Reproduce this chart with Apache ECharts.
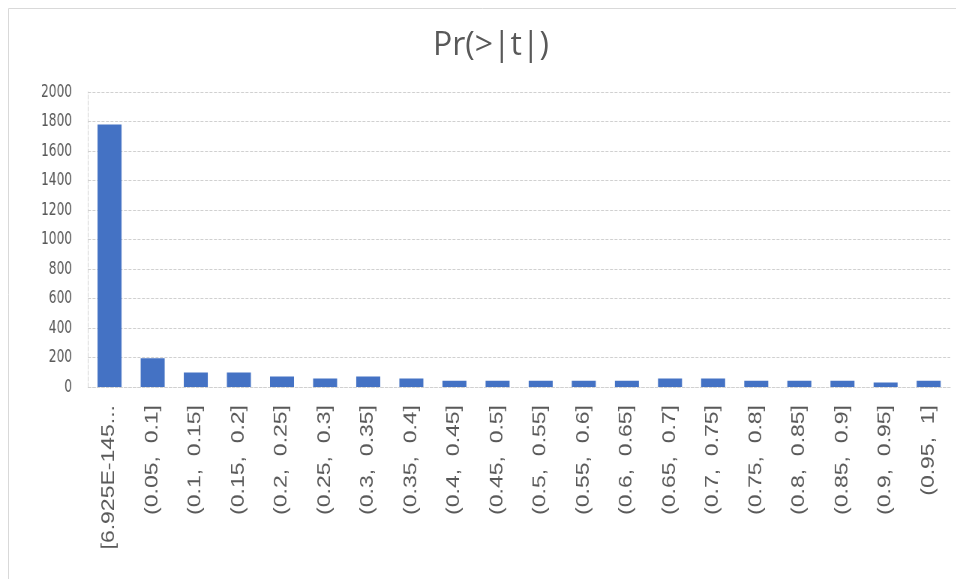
<!DOCTYPE html>
<html>
<head>
<meta charset="utf-8">
<script src="https://cdn.jsdelivr.net/npm/echarts@6/dist/echarts.min.js"></script>
<style>
html,body{margin:0;padding:0;background:#fff;overflow:hidden;}
#wrap{position:relative;width:956px;height:579px;overflow:hidden;}
#chart{position:absolute;left:0;top:0;height:579px;transform-origin:0 0;}
#title{position:absolute;left:0;top:0;width:956px;height:579px;pointer-events:none;}
</style>
</head>
<body>
<div id="wrap">
  <div id="chart"></div>
  <div id="title"></div>
</div>
<script>
const categories = ['[6.925E-145...', '(0.05,  0.1]', '(0.1,  0.15]', '(0.15,  0.2]', '(0.2,  0.25]', '(0.25,  0.3]', '(0.3,  0.35]', '(0.35,  0.4]', '(0.4,  0.45]', '(0.45,  0.5]', '(0.5,  0.55]', '(0.55,  0.6]', '(0.6,  0.65]', '(0.65,  0.7]', '(0.7,  0.75]', '(0.75,  0.8]', '(0.8,  0.85]', '(0.85,  0.9]', '(0.9,  0.95]', '(0.95,  1]'];
const counts = [1780, 195, 98, 98, 72, 57, 72, 57, 43, 43, 43, 43, 43, 57, 57, 43, 43, 43, 30, 43];
const yTicks = [0, 200, 400, 600, 800, 1000, 1200, 1400, 1600, 1800, 2000];
const titleText = 'Pr(>|t|)';

// the reference's axis text is narrow and tall: draw the plot wider and squeeze it horizontally
const sx = 0.75;
const chartEl = document.getElementById('chart');
chartEl.style.width = (956 / sx) + 'px';
chartEl.style.transform = 'scaleX(' + sx + ')';

const font = '"Liberation Sans", Arial, sans-serif';
const narrow = '"Liberation Sans Narrow", "DejaVu Sans Condensed", "Liberation Sans", sans-serif';
const chart = echarts.init(chartEl, null, {renderer: 'canvas'});
chart.setOption({
  animation: false,
  backgroundColor: '#fff',
  grid: {left: 88 / sx, right: 6 / sx, top: 92, bottom: 192, containLabel: false},
  xAxis: {
    type: 'category', data: categories,
    axisTick: {show: false},
    axisLine: {show: true, lineStyle: {color: '#d0d0d0', type: 'dashed', width: 1}},
    axisLabel: {rotate: 90, interval: 0, margin: 18, fontFamily: font, fontSize: 23, color: '#595959'}
  },
  yAxis: {
    type: 'value', min: yTicks[0], max: yTicks[yTicks.length - 1], interval: 200,
    axisLine: {show: true, lineStyle: {color: '#d0d0d0', type: 'dashed'}},
    axisTick: {show: false},
    splitLine: {show: true, lineStyle: {color: '#d0d0d0', type: 'dashed', width: 1}},
    axisLabel: {margin: 16 / sx, fontFamily: narrow, fontSize: 18, color: '#595959',
      formatter: v => String(v)}
  },
  series: [{
    type: 'bar', data: counts, barWidth: 24 / sx,
    itemStyle: {color: '#4472c4'}
  }]
});

const titleChart = echarts.init(document.getElementById('title'), null, {renderer: 'canvas'});
titleChart.setOption({
  animation: false,
  title: {
    text: titleText,
    left: 486, top: 25, textAlign: 'center',
    textStyle: {fontFamily: '"Open Sans", sans-serif', fontSize: 32, fontWeight: 'normal', color: '#595959'}
  },
  graphic: [{
    type: 'rect', silent: true,
    shape: {x: 8.5, y: 8.5, width: 1000, height: 700},
    style: {fill: null, stroke: '#d9d9d9', lineWidth: 1}
  }]
});
</script>
</body>
</html>
